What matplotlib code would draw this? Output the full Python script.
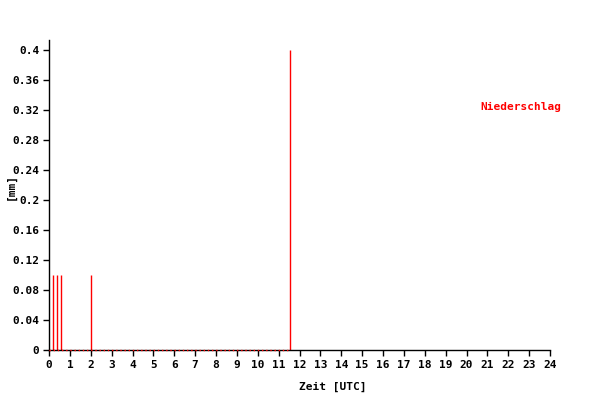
import matplotlib
matplotlib.use("Agg")
import matplotlib.pyplot as plt
import numpy as np

# Precipitation data (hours UTC, mm)
bar_times = [0.2, 0.38, 0.56, 2.03, 11.54]
bar_values = [0.1, 0.1, 0.1, 0.1, 0.4]
zero_span = [0.0, 11.54]  # period with reported data (zero values drawn dotted)

x_ticks = list(range(0, 25))
y_ticks = [0, 0.04, 0.08, 0.12, 0.16, 0.2, 0.24, 0.28, 0.32, 0.36, 0.4]
y_labels = ["0", "0.04", "0.08", "0.12", "0.16", "0.2", "0.24", "0.28", "0.32", "0.36", "0.4"]

plt.rcParams['font.family'] = ['DejaVu Sans Mono']
plt.rcParams['font.weight'] = 'bold'

fig = plt.figure(figsize=(6, 4.2), dpi=100)
ax = fig.add_axes([49/600, 70/420, 501/600, 310/420])

ax.vlines(bar_times, 0, bar_values, colors='#ff0000', linewidth=1)
ax.plot(zero_span, [0, 0], color='#ff0000', linestyle=(0, (1, 2)), linewidth=1, zorder=3, clip_on=False)

ax.set_xlim(0, 24)
ax.set_ylim(0, 0.4133)
ax.set_xticks(x_ticks)
ax.set_xticklabels([str(t) for t in x_ticks], fontsize=8, fontweight='bold')
ax.set_yticks(y_ticks)
ax.set_yticklabels(y_labels, fontsize=8, fontweight='bold')
ax.tick_params(axis='both', direction='out', length=4, width=1, color='black', pad=3)

for s in ['top', 'right']:
    ax.spines[s].set_visible(False)
for s in ['left', 'bottom']:
    ax.spines[s].set_linewidth(1)

fig.text(11/600, 1 - 187/420, '[mm]', rotation=90, ha='center', va='center', fontsize=8, fontweight='bold')
fig.text(333/600, 1 - 387/420, 'Zeit [UTC]', ha='center', va='center', fontsize=8, fontweight='bold')
fig.text(521/600, 1 - 107/420, 'Niederschlag', ha='center', va='center', fontsize=8, fontweight='bold', color='#ff0000')

fig.savefig('out.png', dpi=100)
